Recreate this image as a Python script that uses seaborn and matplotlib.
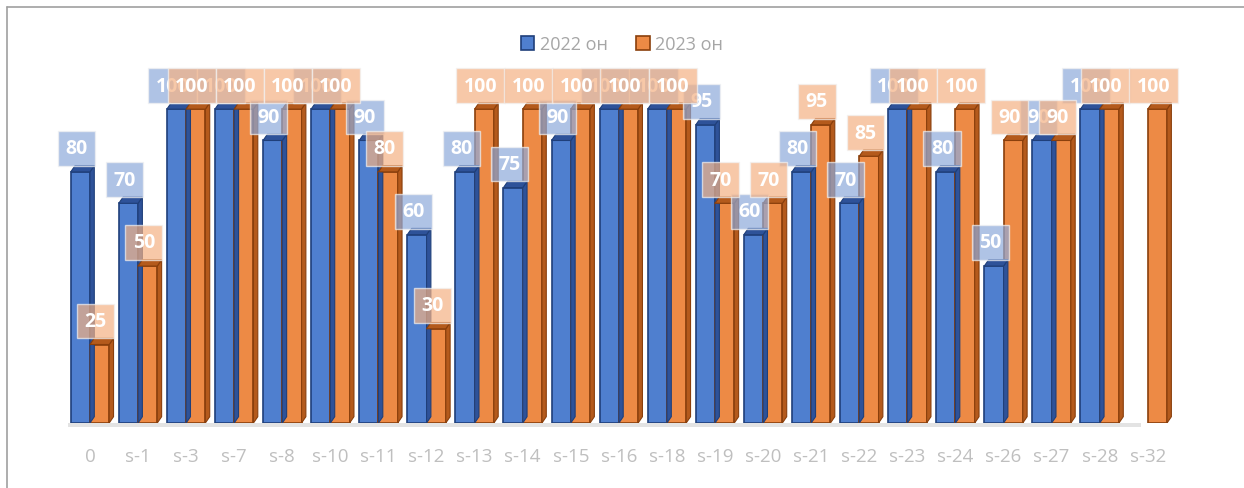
import numpy as np
import pandas as pd
import matplotlib
matplotlib.use("Agg")
import matplotlib.pyplot as plt
from matplotlib.patches import Polygon, Rectangle
import seaborn as sns

categories = ["0", "s-1", "s-3", "s-7", "s-8", "s-10", "s-11", "s-12", "s-13", "s-14",
              "s-15", "s-16", "s-18", "s-19", "s-20", "s-21", "s-22", "s-23", "s-24",
              "s-26", "s-27", "s-28", "s-32"]
vals_2022 = [80, 70, 100, 100, 90, 100, 90, 60, 80, 75, 90, 100, 100, 95, 60, 80, 70,
             100, 80, 50, 90, 100, np.nan]
vals_2023 = [25, 50, 100, 100, 100, 100, 80, 30, 100, 100, 100, 100, 100, 70, 70, 95, 85,
             100, 100, 90, 90, 100, 100]
series = ["2022 он", "2023 он"]

df = pd.DataFrame({
    "cat": categories * 2,
    "year": [series[0]] * len(categories) + [series[1]] * len(categories),
    "value": vals_2022 + vals_2023,
})

face = {series[0]: "#4f7fcf", series[1]: "#ed8a45"}
edge = {series[0]: "#1f3f7a", series[1]: "#8a3f0c"}
side = {series[0]: "#2e5299", series[1]: "#b45a1c"}
box_fc = {series[0]: "#8eaadb", series[1]: "#f4b183"}

sns.set_style("white")
plt.rcParams['font.family'] = ['Open Sans', 'DejaVu Sans']

fig = plt.figure(figsize=(12.44, 4.89), dpi=100)
ax = fig.add_axes([0.053, 0.133, 0.889, 0.706])

sns.barplot(data=df, x="cat", y="value", hue="year", palette=face, width=0.8,
            saturation=1, ax=ax, legend=True)

ax.set_xlim(-0.5, len(categories) - 0.5)
ax.set_ylim(0, 110)

# 3D look: side and top faces, dark outline
dx, dy = 0.09, 2.0
for cont, name in zip(ax.containers, series):
    for p, v in zip(cont.patches, cont.datavalues):
        if np.isnan(v):
            continue
        p.set_edgecolor(edge[name])
        p.set_linewidth(1.2)
        x0, w, h = p.get_x(), p.get_width(), p.get_height()
        ax.add_patch(Polygon([(x0 + w, 0), (x0 + w + dx, dy), (x0 + w + dx, h + dy), (x0 + w, h)],
                             closed=True, fc=side[name], ec=edge[name], lw=0.8, zorder=p.get_zorder()))
        ax.add_patch(Polygon([(x0, h), (x0 + dx, h + dy), (x0 + w + dx, h + dy), (x0 + w, h)],
                             closed=True, fc=side[name], ec=edge[name], lw=0.8, zorder=p.get_zorder()))

# floor shadow
ax.add_patch(Rectangle((-0.45, -1.2), len(categories) - 0.7, 1.2, fc="#e3e3e3", ec="none",
                       zorder=0, clip_on=False))

# data labels
for cont, name in zip(ax.containers, series):
    for p, v in zip(cont.patches, cont.datavalues):
        if np.isnan(v):
            continue
        cx = p.get_x() + p.get_width() / 2 - 0.08
        ax.text(cx, v + 7.5, f"{v:.0f}", ha="center", va="center", color="white",
                fontsize=14, fontweight="bold", zorder=10, clip_on=False,
                bbox=dict(boxstyle="square,pad=0.38", fc=box_fc[name], ec="#f2f2f2",
                          alpha=0.7, lw=1))

ax.set_xlabel("")
ax.set_ylabel("")
ax.set_yticks([])
ax.tick_params(axis="x", length=0, labelsize=13.5, labelcolor="#bfbfbf", pad=17)
for s in ax.spines.values():
    s.set_visible(False)

handles, labels = ax.get_legend_handles_labels()
for h, name in zip(handles, series):
    h.set_edgecolor(edge[name])
    h.set_linewidth(1.2)
ax.legend(handles, labels, loc="center", bbox_to_anchor=(0.5, 0.907), bbox_transform=fig.transFigure,
          ncol=2, frameon=False, fontsize=13, labelcolor="#a6a6a6", handlelength=0.75,
          handleheight=0.8, handletextpad=0.3, columnspacing=1.6)

# outer border (top and left)
fig.add_artist(plt.Line2D([0.006, 1.0], [0.983, 0.983], color="#a0a0a0", lw=1.2))
fig.add_artist(plt.Line2D([0.006, 0.006], [0.0, 0.983], color="#a0a0a0", lw=1.2))

fig.savefig("out.png", dpi=100)
